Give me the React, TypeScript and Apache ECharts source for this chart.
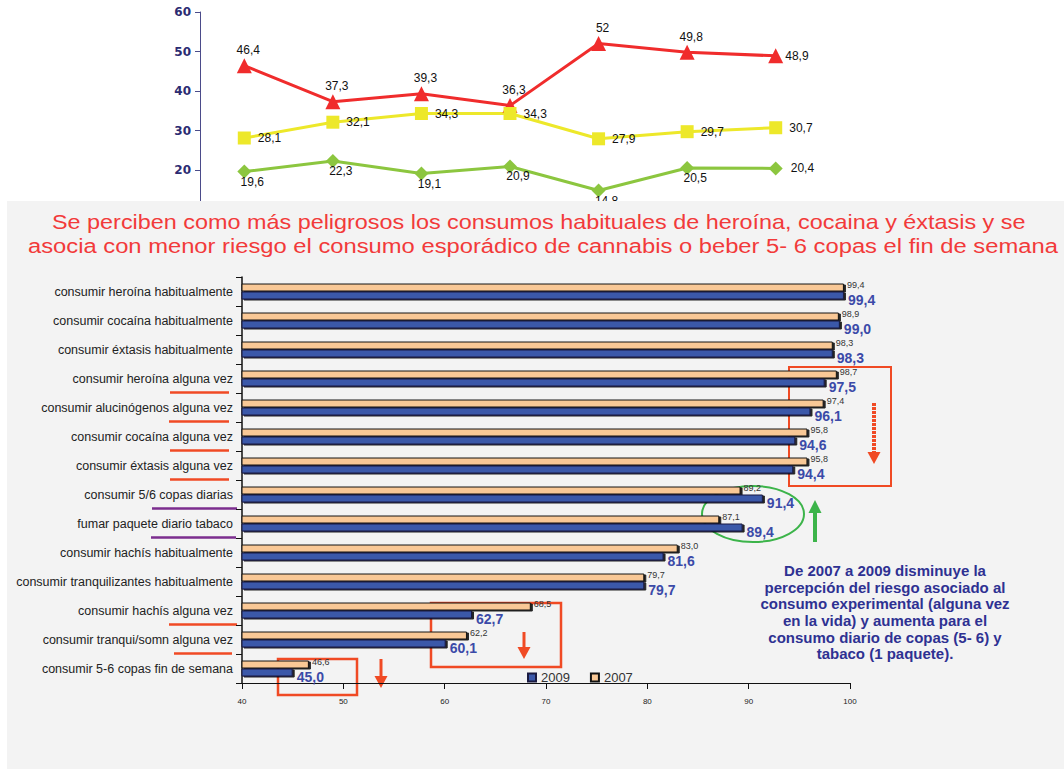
import React, { useEffect, useRef } from "react";
import * as echarts from "echarts";

// ---------- top (partially hidden) line chart ----------
const lineCategories = ["p1", "p2", "p3", "p4", "p5", "p6", "p7"];
const redValues = [46.4, 37.3, 39.3, 36.3, 52, 49.8, 48.9];
const yellowValues = [28.1, 32.1, 34.3, 34.3, 27.9, 29.7, 30.7];
const greenValues = [19.6, 22.3, 19.1, 20.9, 14.8, 20.5, 20.4];
const lineYMin = 0;
const lineYMax = 60;
const lineYInterval = 10;

// ---------- bar chart ----------
const barCategories = [
  "consumir heroína habitualmente",
  "consumir cocaína habitualmente",
  "consumir éxtasis habitualmente",
  "consumir heroína alguna vez",
  "consumir alucinógenos alguna vez",
  "consumir cocaína alguna vez",
  "consumir éxtasis alguna vez",
  "consumir 5/6 copas diarias",
  "fumar paquete diario tabaco",
  "consumir hachís habitualmente",
  "consumir tranquilizantes habitualmente",
  "consumir hachís alguna vez",
  "consumir tranqui/somn alguna vez",
  "consumir 5-6 copas fin de semana",
];
const values2007 = [99.4, 98.9, 98.3, 98.7, 97.4, 95.8, 95.8, 89.2, 87.1, 83.0, 79.7, 68.5, 62.2, 46.6];
const values2009 = [99.4, 99.0, 98.3, 97.5, 96.1, 94.6, 94.4, 91.4, 89.4, 81.6, 79.7, 62.7, 60.1, 45.0];
const seriesNames = ["2009", "2007"];
const barXMin = 40;
const barXMax = 100;
const barXInterval = 10;

const titleLines = [
  "Se perciben como más peligrosos los consumos habituales de heroína, cocaina y éxtasis y se",
  "asocia con menor riesgo el consumo esporádico de cannabis o beber 5- 6 copas el fin de semana",
];
const noteLines = [
  "De 2007 a 2009 disminuye la",
  "percepción del riesgo asociado al",
  "consumo experimental (alguna vez",
  "en la vida) y aumenta para el",
  "consumo diario de copas (5- 6) y",
  "tabaco (1 paquete).",
];

// rows whose label is underlined (annotation)
const underlines = [
  { row: 3, x1: 170, x2: 229, color: "#f04a24" },
  { row: 4, x1: 169, x2: 229, color: "#f04a24" },
  { row: 5, x1: 170, x2: 229, color: "#f04a24" },
  { row: 6, x1: 170, x2: 229, color: "#f04a24" },
  { row: 7, x1: 152, x2: 237, color: "#7b2d8e" },
  { row: 8, x1: 151, x2: 236, color: "#7b2d8e" },
  { row: 11, x1: 169, x2: 237, color: "#f04a24" },
  { row: 12, x1: 174, x2: 232, color: "#f04a24" },
];

const comma = (v: number) => String(v).replace(".", ",");
const comma1 = (v: number) => v.toFixed(1).replace(".", ",");

const RED = "#f02c2c";
const ANN_RED = "#f04a24";
const GREEN_ANN = "#3cb44a";

function downArrow(x: number, y1: number, y2: number, color: string, w: number, dash?: number[]) {
  return [
    { type: "line", shape: { x1: x, y1, x2: x, y2: y2 - 10 }, style: { stroke: color, lineWidth: w, lineDash: dash } },
    { type: "polygon", shape: { points: [[x - 6.5, y2 - 12], [x + 6.5, y2 - 12], [x, y2]] }, style: { fill: color } },
  ];
}

export default function App() {
  const topRef = useRef<HTMLDivElement>(null);
  const botRef = useRef<HTMLDivElement>(null);

  useEffect(() => {
    const top = echarts.init(topRef.current!, undefined, { renderer: "svg" });
    const labelFont = { fontFamily: "Liberation Sans, Arial, sans-serif", fontSize: 12, color: "#111" };
    const last = lineCategories.length - 1;
    top.setOption({
      animation: false,
      grid: { left: 200, top: 12, width: 620, height: 237 },
      xAxis: {
        type: "category",
        data: lineCategories,
        axisLabel: { show: false },
        axisTick: { show: false },
        axisLine: { lineStyle: { color: "#4b4b8a" } },
      },
      yAxis: {
        type: "value",
        min: lineYMin,
        max: lineYMax,
        interval: lineYInterval,
        splitLine: { show: false },
        axisLine: { show: true, lineStyle: { color: "#4b4b8a", width: 1 } },
        axisTick: { show: true, length: 5, lineStyle: { color: "#4b4b8a" } },
        axisLabel: {
          fontFamily: "DejaVu Sans, sans-serif",
          fontWeight: "bold",
          fontSize: 12,
          color: "#2b2b72",
          margin: 9,
          // 0 and 10 lie under the grey panel
          formatter: (v: number) => (v >= 20 ? String(v) : ""),
        },
      },
      series: [
        {
          type: "line",
          data: redValues.map((v, i) => (i === last ? { value: v, label: { position: "right", offset: [0, 0] } } : v)),
          symbol: "triangle",
          symbolSize: 15,
          lineStyle: { color: RED, width: 3 },
          itemStyle: { color: RED },
          label: { show: true, position: "top", distance: 2, offset: [4, 0], formatter: (p: any) => comma(p.value), ...labelFont },
        },
        {
          type: "line",
          data: yellowValues,
          symbol: "rect",
          symbolSize: 13,
          lineStyle: { color: "#ede82a", width: 3 },
          itemStyle: { color: "#ede82a" },
          label: { show: true, position: "right", distance: 7, formatter: (p: any) => comma(p.value), ...labelFont },
        },
        {
          type: "line",
          data: greenValues.map((v, i) => (i === last ? { value: v, label: { position: "right", distance: 8, offset: [0, 0] } } : v)),
          symbol: "diamond",
          symbolSize: 14,
          lineStyle: { color: "#8cc63f", width: 3 },
          itemStyle: { color: "#8cc63f" },
          label: { show: true, position: "bottom", distance: 0, offset: [8, -3], formatter: (p: any) => comma(p.value), ...labelFont },
        },
      ],
    });

    const bot = echarts.init(botRef.current!, undefined, { renderer: "svg" });
    const baseOption: any = {
      animation: false,
      grid: { left: 242, top: 277, width: 608, height: 406 },
      legend: {
        data: seriesNames,
        left: 522,
        top: 666,
        icon: "rect",
        itemWidth: 8,
        itemHeight: 8,
        itemGap: 20,
        textStyle: { fontFamily: "Liberation Sans, Arial, sans-serif", fontSize: 13, color: "#333" },
      },
      xAxis: {
        type: "value",
        min: barXMin,
        max: barXMax,
        interval: barXInterval,
        splitLine: { show: false },
        axisLine: { show: true, lineStyle: { color: "#111", width: 1.2 } },
        axisTick: { show: true, length: 6, lineStyle: { color: "#111" } },
        axisLabel: { fontFamily: "Liberation Sans Narrow, Arial Narrow, sans-serif", fontSize: 8, color: "#222", margin: 14 },
      },
      yAxis: {
        type: "category",
        inverse: true,
        data: barCategories,
        axisLine: { show: true, lineStyle: { color: "#111", width: 1.5 } },
        axisTick: { show: true, length: 6, lineStyle: { color: "#111" } },
        axisLabel: { fontFamily: "Liberation Sans, Arial, sans-serif", fontSize: 12.5, color: "#222", margin: 9 },
      },
      series: [
        {
          name: "2007",
          type: "bar",
          data: values2007,
          barWidth: 8,
          barGap: "0%",
          itemStyle: { color: "#f9c896", borderColor: "#111", borderWidth: 1, shadowColor: "rgba(0,0,0,0.85)", shadowOffsetX: 2, shadowOffsetY: 1, shadowBlur: 0.1 },
          label: {
            show: true,
            position: "right",
            distance: 3,
            offset: [0, -3],
            formatter: (p: any) => comma1(p.value),
            fontFamily: "Liberation Sans Narrow, Arial Narrow, sans-serif",
            fontSize: 9,
            color: "#333",
          },
        },
        {
          name: "2009",
          type: "bar",
          data: values2009,
          barWidth: 8,
          barGap: "0%",
          itemStyle: { color: "#3b58a9", borderColor: "#1a1a40", borderWidth: 1, shadowColor: "rgba(0,0,0,0.85)", shadowOffsetX: 2, shadowOffsetY: 1, shadowBlur: 0.1 },
          label: {
            show: true,
            position: "right",
            distance: 3,
            offset: [1, 4],
            formatter: (p: any) => comma1(p.value),
            fontFamily: "Liberation Sans Narrow, Arial Narrow, sans-serif",
            fontWeight: "bold",
            fontSize: 14,
            color: "#3b4aa8",
          },
        },
      ],
    };
    bot.setOption(baseOption);

    const g: any[] = [];
    const titleStyle = { fill: "#f23a3a", fontFamily: "Liberation Sans, Arial, sans-serif", fontSize: 20, verticalAlign: "middle" };
    g.push({ type: "text", x: 52, y: 222, scaleX: 1.17, style: { text: titleLines[0], ...titleStyle } });
    g.push({ type: "text", x: 28, y: 246, scaleX: 1.188, style: { text: titleLines[1], ...titleStyle } });

    underlines.forEach((u) => {
      const yc = bot.convertToPixel({ yAxisIndex: 0 }, barCategories[u.row]) as number;
      g.push({ type: "line", shape: { x1: u.x1, y1: yc + 14, x2: u.x2, y2: yc + 14 }, style: { stroke: u.color, lineWidth: 2.5 } });
    });

    // annotation boxes
    g.push({ type: "rect", shape: { x: 789, y: 367, width: 102, height: 119 }, style: { stroke: ANN_RED, fill: "none", lineWidth: 2 } });
    g.push({ type: "rect", shape: { x: 431, y: 603, width: 130, height: 64 }, style: { stroke: ANN_RED, fill: "none", lineWidth: 2.5 } });
    g.push({ type: "rect", shape: { x: 278, y: 659, width: 79, height: 36 }, style: { stroke: ANN_RED, fill: "none", lineWidth: 2.5 } });
    g.push(...downArrow(874, 403, 464, ANN_RED, 4, [3, 1]));
    g.push(...downArrow(524, 632, 659, ANN_RED, 3));
    g.push(...downArrow(381, 659, 688, ANN_RED, 3));

    // green ellipse and up arrow
    g.push({ type: "ellipse", shape: { cx: 753, cy: 514, rx: 51, ry: 28 }, style: { stroke: GREEN_ANN, fill: "none", lineWidth: 2 } });
    g.push({ type: "line", shape: { x1: 815, y1: 510, x2: 815, y2: 542 }, style: { stroke: GREEN_ANN, lineWidth: 4 } });
    g.push({ type: "polygon", shape: { points: [[808.5, 513], [821.5, 513], [815, 500]] }, style: { fill: GREEN_ANN } });

    g.push({
      type: "text",
      x: 885,
      y: 562,
      style: {
        text: noteLines.join("\n"),
        fill: "#2e3192",
        fontFamily: "Liberation Sans, Arial, sans-serif",
        fontWeight: "bold",
        fontSize: 15,
        lineHeight: 16.7,
        align: "center",
        verticalAlign: "top",
      },
    });

    bot.setOption({ graphic: g });

    return () => {
      top.dispose();
      bot.dispose();
    };
  }, []);

  return (
    <div style={{ position: "absolute", left: 0, top: 0, width: 1064, height: 771, background: "#fff", overflow: "hidden" }}>
      <div ref={topRef} style={{ position: "absolute", left: 0, top: 0, width: 1064, height: 771 }} />
      <div style={{ position: "absolute", left: 7, top: 201, width: 1057, height: 568, background: "#f3f3f3" }} />
      <div ref={botRef} style={{ position: "absolute", left: 0, top: 0, width: 1064, height: 771 }} />
    </div>
  );
}
